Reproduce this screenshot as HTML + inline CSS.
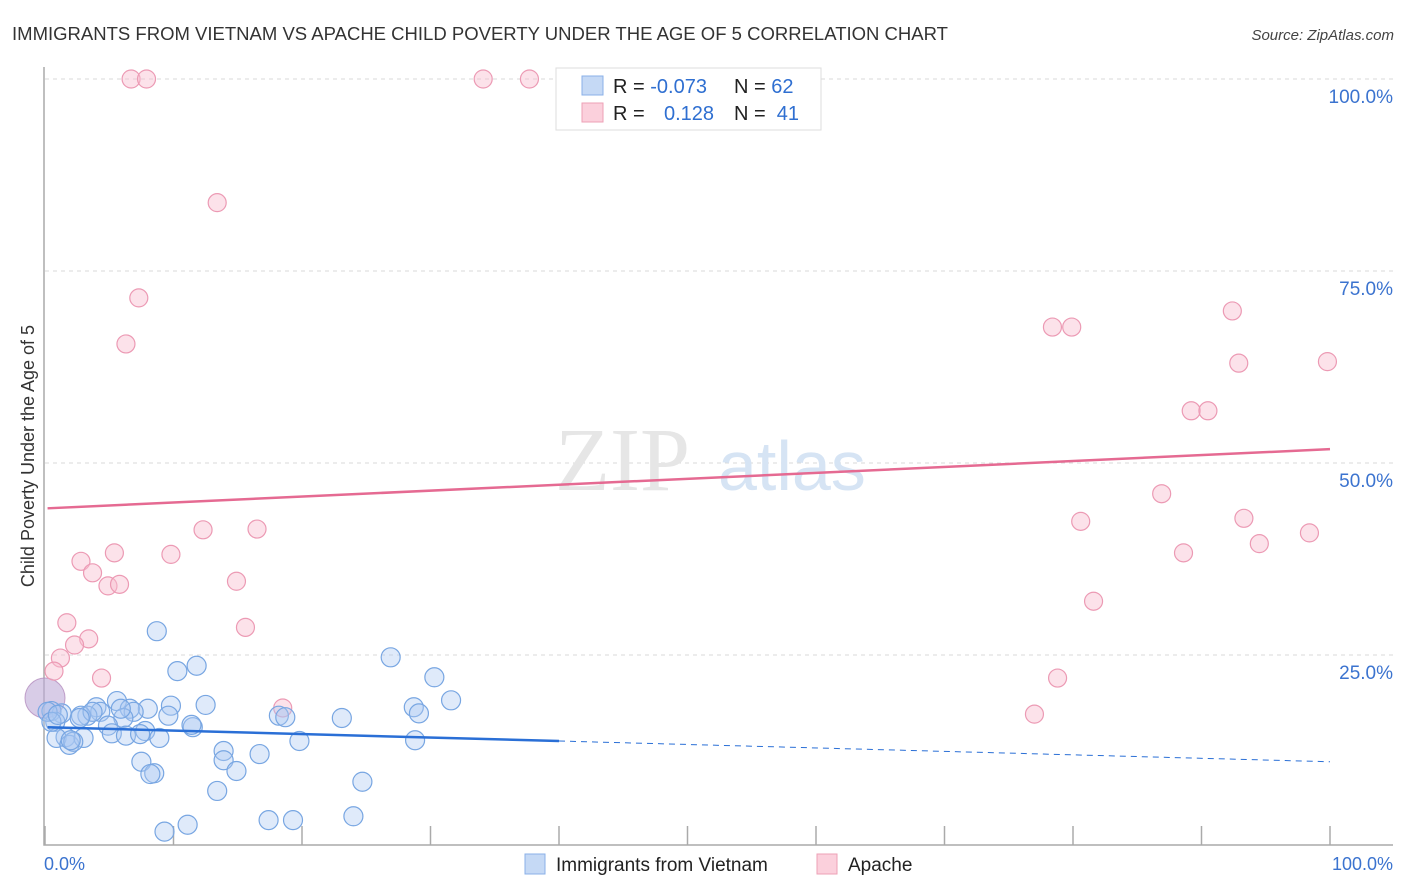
<!DOCTYPE html>
<html><head><meta charset="utf-8"><style>
body{margin:0;background:#fff;font-family:"Liberation Sans",sans-serif;}
svg{display:block}
</style></head><body>
<svg id="chart" width="1406" height="892" viewBox="0 0 1406 892">
<text x="12" y="40" font-size="18" fill="#333" textLength="936" lengthAdjust="spacingAndGlyphs">IMMIGRANTS FROM VIETNAM VS APACHE CHILD POVERTY UNDER THE AGE OF 5 CORRELATION CHART</text>
<text x="1394" y="40" font-size="15" fill="#444" font-style="italic" text-anchor="end">Source: ZipAtlas.com</text>
<text x="0" y="0" transform="translate(34,456) rotate(-90)" font-size="18" fill="#333" text-anchor="middle">Child Poverty Under the Age of 5</text>
<g id="grid"></g>
<text x="555" y="490" font-size="90" fill="#e6e6e6" font-family="Liberation Serif,serif">ZIP</text>
<text x="718" y="490" font-size="70" fill="#d6e4f4">atlas</text>
<g id="marks"></g>
<g>
<rect x="556" y="68" width="265" height="62" fill="#fff" stroke="#ddd"/>
<rect x="582" y="76" width="21" height="19" fill="#c5d9f5" stroke="#8ab0e8"/>
<rect x="582" y="103" width="21" height="19" fill="#fbd0dc" stroke="#eea0b6"/>
<text x="613" y="93" font-size="20" fill="#222">R = <tspan fill="#2f6fd1">-0.073</tspan></text>
<text x="734" y="93" font-size="20" fill="#222">N = <tspan fill="#2f6fd1">62</tspan></text>
<text x="613" y="120" font-size="20" fill="#222">R = </text>
<text x="664" y="120" font-size="20" fill="#2f6fd1">0.128</text>
<text x="734" y="120" font-size="20" fill="#222">N = <tspan fill="#2f6fd1">&#160;41</tspan></text>
</g>
<text x="44" y="870" font-size="18" fill="#3b73cf">0.0%</text>
<text x="1393" y="870" font-size="18" fill="#3b73cf" text-anchor="end">100.0%</text>
<g>
<rect x="525" y="854" width="20" height="20" fill="#c5d9f5" stroke="#8ab0e8"/>
<text x="556" y="871" font-size="19" fill="#222">Immigrants from Vietnam</text>
<rect x="817" y="854" width="20" height="20" fill="#fbd0dc" stroke="#eea0b6"/>
<text x="848" y="871" font-size="19" fill="#222">Apache</text>
</g>
</svg>
<script>
const yTicks=[25,50,75,100];
const yTickLabels=["25.0%","50.0%","75.0%","100.0%"];
const xTicks=[0,10,20,30,40,50,60,70,80,90,100];
const pinkX=[6.7,7.9,34.1,37.7,13.4,7.3,6.3,12.3,16.5,9.8,5.4,2.8,3.7,4.9,5.8,14.9,1.7,3.4,2.3,1.2,0.7,4.4,15.6,18.5,78.4,79.9,92.4,92.9,99.8,89.2,90.5,86.9,80.6,93.3,98.4,94.5,88.6,81.6,78.8,77.0];
const pinkY=[100,100,100,100,83.9,71.5,65.5,41.3,41.4,38.1,38.3,37.2,35.7,34.0,34.2,34.6,29.2,27.1,26.3,24.6,22.9,22.0,28.6,18.1,67.7,67.7,69.8,63.0,63.2,56.8,56.8,46.0,42.4,42.8,40.9,39.5,38.3,32.0,22.0,17.3];
const blueX=[8.7,11.8,10.3,26.9,30.3,31.6,28.7,29.1,12.5,9.8,8.0,5.6,4.0,4.3,3.3,2.8,3.7,6.6,6.9,6.1,4.9,9.6,11.5,7.8,5.2,6.3,8.9,7.4,2.7,1.3,0.5,0.8,1.6,0.9,1.9,3.0,2.2,19.8,28.8,13.9,16.7,13.9,7.5,14.9,8.5,8.2,24.7,13.4,24.0,17.4,19.3,11.1,9.3,18.2,18.7,23.1,0.2,0.5,1.0,11.4,2.0,5.9];
const blueY=[28.1,23.6,22.9,24.7,22.1,19.1,18.2,17.4,18.5,18.4,18.0,19.0,18.2,17.6,17.1,17.1,17.6,18.0,17.6,16.8,15.8,17.1,15.6,15.1,14.8,14.5,14.2,14.7,16.8,17.4,17.7,16.3,14.3,14.2,13.3,14.2,13.7,13.8,13.9,12.5,12.1,11.3,11.1,9.9,9.6,9.5,8.5,7.3,4.0,3.5,3.5,2.9,2.0,17.1,16.9,16.8,17.6,16.3,17.2,15.9,13.9,18.0];
const bigPoint=[0,19.4];
const pinkTrend=[44.1,51.8];
const blueTrend=[15.6,11.1];
const blueSolidEnd=40;

const X0=45,X1=1330,Y0=847,Y100=79;
const sx=v=>X0+(X1-X0)*v/100;
const sy=v=>Y0-(Y0-Y100)*v/100;
const NS="http://www.w3.org/2000/svg";
function mk(tag,attrs,parent){const e=document.createElementNS(NS,tag);for(const k in attrs)e.setAttribute(k,attrs[k]);parent.appendChild(e);return e;}
const grid=document.getElementById('grid'),marks=document.getElementById('marks');
yTicks.forEach((t,i)=>{
  const l=mk('line',{x1:45,x2:1393,y1:sy(t),y2:sy(t),stroke:'#d8d8d8','stroke-dasharray':'4,4'},grid);
  
  
  const tx=mk('text',{x:1393,y:sy(t)+24,'font-size':19,fill:'#3b73cf','text-anchor':'end'},grid);
  tx.textContent=yTickLabels[i];
  
  
});
const ax=mk('path',{d:`M44 67 V845 H1393`,stroke:'#aaa','stroke-width':1.5,fill:'none'},grid);


xTicks.forEach(t=>{
  const l=mk('line',{x1:sx(t),x2:sx(t),y1:826,y2:845,stroke:'#aaa','stroke-width':1.5},grid);
  
  
});
const bb=mk('circle',{cx:sx(bigPoint[0]),cy:sy(bigPoint[1]),r:20,fill:'rgba(190,170,215,0.6)',stroke:'rgba(180,140,190,0.8)'},marks);


pinkX.forEach((x,i)=>{
  const c=mk('circle',{cx:sx(x),cy:sy(pinkY[i]),r:9,fill:'rgba(248,190,208,0.45)',stroke:'#ec9ab4','stroke-width':1.2},marks);
  
  
});
blueX.forEach((x,i)=>{
  const c=mk('circle',{cx:sx(x),cy:sy(blueY[i]),r:9.5,fill:'rgba(170,200,242,0.38)',stroke:'#78a6e2','stroke-width':1.2},marks);
  
  
});
const bAt=v=>blueTrend[0]+(blueTrend[1]-blueTrend[0])*v/100;
const pt=mk('line',{x1:sx(0.2),y1:sy(pinkTrend[0]),x2:sx(100),y2:sy(pinkTrend[1]),stroke:'#e56a92','stroke-width':2.5},marks);


const bt=mk('line',{x1:sx(0.2),y1:sy(bAt(0)),x2:sx(blueSolidEnd),y2:sy(bAt(blueSolidEnd)),stroke:'#2a6fd6','stroke-width':2.5},marks);


const bd=mk('line',{x1:sx(blueSolidEnd),y1:sy(bAt(blueSolidEnd)),x2:sx(100),y2:sy(bAt(100)),stroke:'#2a6fd6','stroke-width':1,'stroke-dasharray':'6,5'},marks);


</script>
</body></html>
